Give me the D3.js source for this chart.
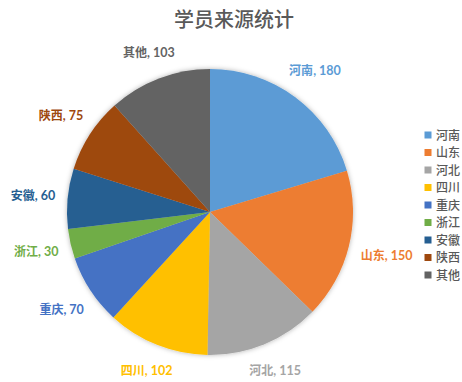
<!DOCTYPE html>
<html><head><meta charset="utf-8">
<script src="https://cdn.jsdelivr.net/npm/d3@7"></script>
<style>body{margin:0;background:#fff}svg{display:block}</style>
</head><body>
<script>
const categories = ["河南","山东","河北","四川","重庆","浙江","安徽","陕西","其他"];
const values = [180,150,115,102,70,30,60,75,103];
const colors = ["#5B9BD5","#ED7D31","#A5A5A5","#FFC000","#4472C4","#70AD47","#255E91","#9E480E","#636363"];
const title = "学员来源统计";

const W = 462, H = 382;
const cx = 210, cy = 212, R = 143;
const svg = d3.select("body").append("svg").attr("width", W).attr("height", H);
const defs = svg.append("defs");
const f = defs.append("filter").attr("id","sh").attr("x","-20%").attr("y","-20%").attr("width","140%").attr("height","140%");
f.append("feDropShadow").attr("dx",0).attr("dy",0).attr("stdDeviation",2.5).attr("flood-color","#000").attr("flood-opacity",0.3);

svg.append("text").attr("x", 234).attr("y", 27).attr("text-anchor","middle")
  .attr("font-family","'Noto Sans CJK SC'").attr("font-weight",500).attr("font-size",20).attr("fill","#595959").text(title);

const data = categories.map((c,i)=>({cat:c, value:values[i], color:colors[i]}));
const pie = d3.pie().value(d=>d.value).sort(null);
const arcs = pie(data);
const arc = d3.arc().innerRadius(0).outerRadius(R);
const g = svg.append("g").attr("transform",`translate(${cx},${cy})`);
g.append("g").attr("filter","url(#sh)").selectAll("path").data(arcs).join("path")
  .attr("d", arc).attr("fill", d=>d.data.color);

// labels
const gap = 12;
arcs.forEach(a=>{
  const mid = (a.startAngle + a.endAngle)/2;
  const s = Math.sin(mid), c = -Math.cos(mid);
  const t = g.append("text").attr("font-size",12).attr("fill",a.data.color).attr("text-anchor","middle");
  t.append("tspan").attr("font-family","'Noto Sans CJK SC'").attr("font-weight","bold").text(a.data.cat);
  t.append("tspan").attr("font-family","Lato").attr("font-weight","bold").attr("font-size",12.5).text(", " + a.data.value);
  const w = t.node().getComputedTextLength(), h = 14;
  const dist = R + gap + Math.abs(s)*w/2 + Math.abs(c)*h/2;
  t.attr("x", s*dist).attr("y", c*dist + 4.5);
});

// legend
const ly0 = 135, lstep = 17.5;
const lg = svg.append("g");
data.forEach((d,i)=>{
  const y = ly0 + i*lstep;
  lg.append("rect").attr("x",424.5).attr("y",y-3.5).attr("width",7).attr("height",7).attr("fill",d.color);
  lg.append("text").attr("x",436).attr("y",y+4.5).attr("font-family","'Noto Sans CJK SC'").attr("font-weight",500)
    .attr("font-size",12).attr("fill","#595959").text(d.cat);
});
</script>
</body></html>
